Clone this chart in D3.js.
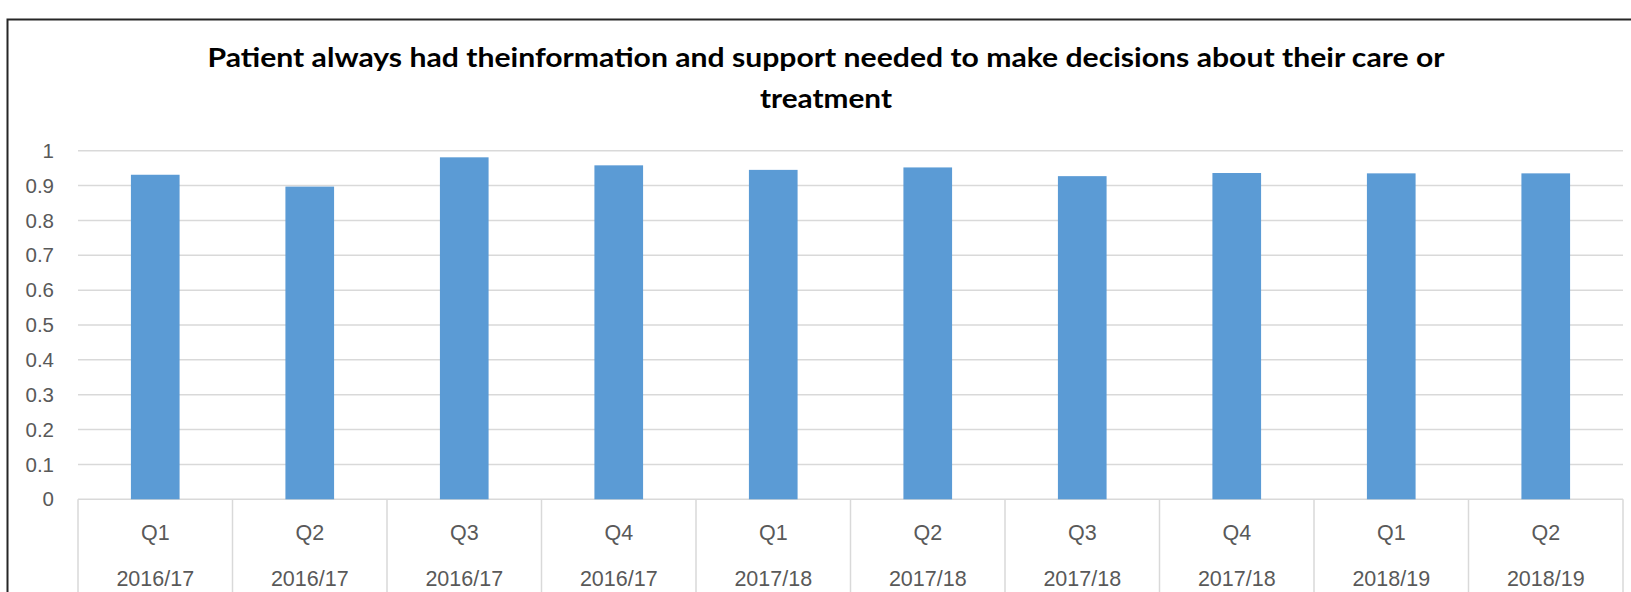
<!DOCTYPE html>
<html>
<head>
<meta charset="utf-8">
<script src="https://cdn.jsdelivr.net/npm/d3@7"></script>
<style>
  html, body { margin: 0; padding: 0; background: #fff; }
  svg { display: block; }
</style>
</head>
<body>
<script>
// chart data
var quarters = ["Q1", "Q2", "Q3", "Q4", "Q1", "Q2", "Q3", "Q4", "Q1", "Q2"];
var years = ["2016/17", "2016/17", "2016/17", "2016/17", "2017/18", "2017/18", "2017/18", "2017/18", "2018/19", "2018/19"];
var values = [0.931, 0.897, 0.981, 0.958, 0.945, 0.952, 0.927, 0.936, 0.935, 0.935];
var yTicks = [0, 0.1, 0.2, 0.3, 0.4, 0.5, 0.6, 0.7, 0.8, 0.9, 1];
var titleLines = ["Patient always had theinformation and support needed to make decisions about their care or", "treatment"];

var width = 1631, height = 592;
var margin_l = 78, margin_r = 8, margin_t = 150.7, plot_b = 499.3;

var svg = d3.select("body").append("svg")
    .attr("width", width)
    .attr("height", height);

// chart frame (runs off the right/bottom of the picture)
svg.append("path")
    .attr("d", "M7.5," + height + "V19.5H" + width)
    .attr("fill", "none")
    .attr("stroke", "#262626")
    .attr("stroke-width", 2);

var idx = d3.range(values.length);

var x = d3.scaleBand()
    .domain(idx)
    .range([margin_l, width - margin_r])
    .paddingInner(0.685)
    .paddingOuter(0.3425);

var xCell = d3.scaleBand()
    .domain(idx)
    .range([margin_l, width - margin_r]);

var y = d3.scaleLinear()
    .domain([0, 1])
    .range([plot_b, margin_t]);

// gridlines
svg.append("g")
  .selectAll("line")
  .data(yTicks)
  .enter().append("line")
    .attr("x1", margin_l)
    .attr("x2", width - margin_r)
    .attr("y1", function(d) { return y(d); })
    .attr("y2", function(d) { return y(d); })
    .attr("stroke", "#d9d9d9")
    .attr("stroke-width", 1.5);

// y tick labels
svg.append("g")
  .selectAll("text")
  .data(yTicks)
  .enter().append("text")
    .attr("x", margin_l - 24)
    .attr("y", function(d) { return y(d); })
    .attr("dy", "0.35em")
    .attr("text-anchor", "end")
    .style("font-family", "'Liberation Sans', Arial, sans-serif")
    .style("font-size", "20.5px")
    .attr("fill", "#595959")
    .text(function(d) { return d3.format("")(d); });

// bars
svg.append("g")
  .selectAll("rect")
  .data(idx)
  .enter().append("rect")
    .attr("x", function(i) { return x(i); })
    .attr("width", x.bandwidth())
    .attr("y", function(i) { return y(values[i]); })
    .attr("height", function(i) { return y(0) - y(values[i]); })
    .attr("fill", "#5b9bd5");

// category dividers below the axis
var edges = idx.map(function(i) { return xCell(i); }).concat([xCell(idx[idx.length - 1]) + xCell.bandwidth()]);
svg.append("g")
  .selectAll("line")
  .data(edges)
  .enter().append("line")
    .attr("x1", function(d) { return d; })
    .attr("x2", function(d) { return d; })
    .attr("y1", plot_b)
    .attr("y2", height)
    .attr("stroke", "#d9d9d9")
    .attr("stroke-width", 1.5);

// two-level category labels
var cats = svg.append("g")
  .selectAll("g")
  .data(idx)
  .enter().append("g")
    .attr("transform", function(i) { return "translate(" + (xCell(i) + xCell.bandwidth() / 2) + ",0)"; })
    .style("font-family", "'Liberation Sans', Arial, sans-serif")
    .style("font-size", "21.5px")
    .attr("fill", "#595959")
    .attr("text-anchor", "middle");

cats.append("text")
    .attr("y", 532)
    .attr("dy", "0.35em")
    .text(function(i) { return quarters[i]; });

cats.append("text")
    .attr("y", 578)
    .attr("dy", "0.35em")
    .text(function(i) { return years[i]; });

// title, two lines
svg.append("g")
  .selectAll("text")
  .data(titleLines)
  .enter().append("text")
    .attr("x", 826)
    .attr("y", function(d, i) { return 67 + i * 41; })
    .attr("text-anchor", "middle")
    .style("font-family", "Lato, sans-serif")
    .style("font-weight", "bold")
    .style("font-size", "27px")
    .attr("fill", "#000")
    .attr("textLength", function(d, i) { return i === 0 ? 1237 : 132; })
    .attr("lengthAdjust", "spacingAndGlyphs")
    .text(function(d) { return d; });
</script>
</body>
</html>
